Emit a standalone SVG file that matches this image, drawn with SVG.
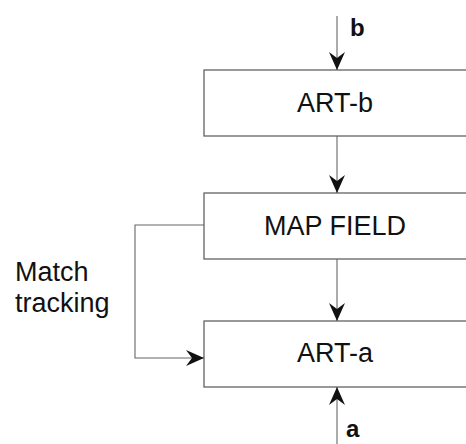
<svg xmlns="http://www.w3.org/2000/svg" width="466" height="444" viewBox="0 0 466 444">
<defs>
<style>
.box{fill:#fff;stroke:#555;stroke-width:1.2}
.ln{fill:none;stroke:#666;stroke-width:1.1}
.t{font-family:"Liberation Sans",Arial,sans-serif;font-size:27px;fill:#111;text-anchor:middle}
.lb{font-family:"Liberation Sans",Arial,sans-serif;font-size:24px;font-weight:bold;fill:#111}
.side{font-family:"Liberation Sans",Arial,sans-serif;font-size:27px;fill:#111}
</style>
<marker id="ah" viewBox="0 0 18 16" refX="18" refY="8" markerWidth="18" markerHeight="16" markerUnits="userSpaceOnUse" orient="auto">
<path d="M0,0 L18,8 L0,16 L6,8 Z" fill="#111"/>
</marker>
</defs>
<rect width="466" height="444" fill="#fff"/>
<g id="art-b"><rect class="box" x="204" y="70" width="280" height="66"/><text class="t" x="335" y="112">ART-b</text></g>
<g id="map-field"><rect class="box" x="204" y="193" width="280" height="66"/><text class="t" x="335" y="235">MAP FIELD</text></g>
<g id="art-a"><rect class="box" x="204" y="321" width="280" height="66"/><text class="t" x="335" y="362">ART-a</text></g>
<g id="connectors">
<line class="ln" x1="337" y1="16" x2="337" y2="70" marker-end="url(#ah)"/>
<line class="ln" x1="337" y1="136" x2="337" y2="193" marker-end="url(#ah)"/>
<line class="ln" x1="337" y1="259" x2="337" y2="321" marker-end="url(#ah)"/>
<line class="ln" x1="337" y1="444" x2="337" y2="387" marker-end="url(#ah)"/>
<polyline class="ln" points="204,225 135,225 135,358 204,358" marker-end="url(#ah)"/>
</g>
<text class="lb" x="350" y="36">b</text>
<text class="lb" x="346" y="437">a</text>
<text class="side" x="15" y="281">Match</text>
<text class="side" x="15" y="312">tracking</text>
</svg>
